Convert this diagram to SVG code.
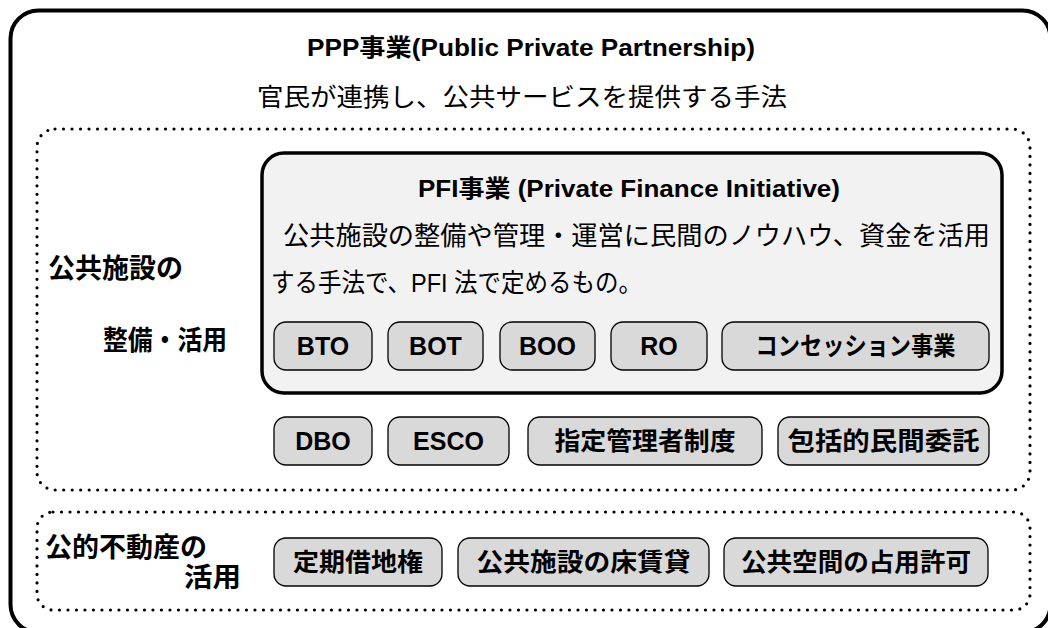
<svg xmlns="http://www.w3.org/2000/svg" width="1048" height="628" viewBox="0 0 1048 628">
<style>
text{font-family:"Liberation Sans","Noto Sans CJK JP",sans-serif;fill:#000}
.b{font-weight:bold}
.pill{fill:#d9d9d9;stroke:#000;stroke-width:1.3}
.dot{fill:none;stroke:#000;stroke-width:3.2;stroke-dasharray:0 8.5;stroke-linecap:round}
.pt{font-size:25px;font-weight:bold;text-anchor:middle}
.lab{font-size:27px;font-weight:bold}
</style>
<rect width="1048" height="628" fill="#fff"/>
<g id="ppp">
<rect x="10.5" y="10.5" width="1040" height="622" rx="28" fill="#fff" stroke="#000" stroke-width="4"/>
<text class="b" x="531" y="56" font-size="24" text-anchor="middle" textLength="448" lengthAdjust="spacingAndGlyphs">PPP事業(Public Private Partnership)</text>
<text x="522" y="106" font-size="25" text-anchor="middle" textLength="530" lengthAdjust="spacingAndGlyphs">官民が連携し、公共サービスを提供する手法</text>
</g>
<g id="group-facilities">
<rect class="dot" x="37" y="129" width="993" height="361" rx="18"/>
<text class="lab" x="48" y="278" textLength="135" lengthAdjust="spacingAndGlyphs">公共施設の</text>
<text class="lab" x="103" y="350" textLength="124" lengthAdjust="spacingAndGlyphs">整備・活用</text>
</g>
<g id="pfi">
<rect x="262" y="153" width="740" height="240" rx="22" fill="#f2f2f2" stroke="#000" stroke-width="3.5"/>
<text class="b" x="629" y="197" font-size="24" text-anchor="middle" textLength="422" lengthAdjust="spacingAndGlyphs">PFI事業 (Private Finance Initiative)</text>
<text x="283" y="245" font-size="26" textLength="707" lengthAdjust="spacingAndGlyphs">公共施設の整備や管理・運営に民間のノウハウ、資金を活用</text>
<text x="271" y="292" font-size="26" textLength="371" lengthAdjust="spacingAndGlyphs">する手法で、PFI 法で定めるもの。</text>
</g>
<g id="bto"><rect class="pill" x="274" y="322" width="98" height="48" rx="12"/><text class="pt" x="323" y="355">BTO</text></g>
<g id="bot"><rect class="pill" x="388" y="322" width="95" height="48" rx="12"/><text class="pt" x="435.5" y="355">BOT</text></g>
<g id="boo"><rect class="pill" x="500" y="322" width="95" height="48" rx="12"/><text class="pt" x="547.5" y="355">BOO</text></g>
<g id="ro"><rect class="pill" x="611" y="322" width="96" height="48" rx="12"/><text class="pt" x="659" y="355">RO</text></g>
<g id="concession"><rect class="pill" x="722" y="322" width="267" height="48" rx="12"/><text class="pt" x="855.5" y="355" textLength="200" lengthAdjust="spacingAndGlyphs">コンセッション事業</text></g>
<g id="dbo"><rect class="pill" x="274" y="417" width="98" height="48" rx="12"/><text class="pt" x="323" y="450">DBO</text></g>
<g id="esco"><rect class="pill" x="388" y="417" width="121" height="48" rx="12"/><text class="pt" x="448.5" y="450">ESCO</text></g>
<g id="shitei"><rect class="pill" x="528" y="417" width="234" height="48" rx="12"/><text class="pt" x="645" y="450" textLength="181" lengthAdjust="spacingAndGlyphs">指定管理者制度</text></g>
<g id="hokatsu"><rect class="pill" x="778" y="417" width="211" height="48" rx="12"/><text class="pt" x="883.5" y="450" textLength="192" lengthAdjust="spacingAndGlyphs">包括的民間委託</text></g>
<g id="group-realestate">
<rect class="dot" x="37" y="512" width="993" height="98" rx="16"/>
<text class="lab" x="45" y="557" textLength="162" lengthAdjust="spacingAndGlyphs">公的不動産の</text>
<text class="lab" x="184" y="587" textLength="57" lengthAdjust="spacingAndGlyphs">活用</text>
</g>
<g id="teiki"><rect class="pill" x="274" y="538" width="168" height="48" rx="12"/><text class="pt" x="358" y="571" textLength="130" lengthAdjust="spacingAndGlyphs">定期借地権</text></g>
<g id="yuka"><rect class="pill" x="458" y="538" width="251" height="48" rx="12"/><text class="pt" x="583.5" y="571" textLength="214" lengthAdjust="spacingAndGlyphs">公共施設の床賃貸</text></g>
<g id="senyo"><rect class="pill" x="724" y="538" width="264" height="48" rx="12"/><text class="pt" x="856" y="571" textLength="230" lengthAdjust="spacingAndGlyphs">公共空間の占用許可</text></g>
<g id="connectors"></g>
</svg>
